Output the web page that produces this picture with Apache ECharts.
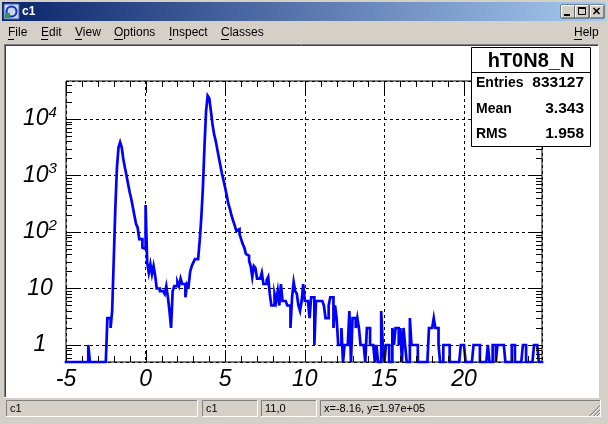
<!DOCTYPE html>
<html>
<head>
<meta charset="utf-8">
<script src="https://cdn.jsdelivr.net/npm/echarts@6/dist/echarts.min.js"></script>
<style>
html,body{margin:0;padding:0;background:#d4d0c8;}
#c{width:608px;height:424px;}
</style>
</head>
<body>
<div id="c"></div>
<script>
// ---- data ----
const X_MIN = -5;
const X_MAX = 24.9;
const BIN_WIDTH = 0.1;
const Y_MIN = 0.5;
const Y_MAX = 47000;
const COUNTS = [
  0,0,0,0,0,0,0,0,0,0,
  0,0,0,0,1,0,0,0,0,0,
  0,0,0,0,0,0,3,3,2,4,
  33,274,1390,3160,3870,3160,1960,1390,1000,707,
  504,384,274,194,138,120,75,75,53,50,
  300,29,19,27,18,25,17,10,10,9,
  9,9,8,11,7,4,2,9,11,11,
  13,11,15,12,12,7,12,11,20,25,
  29,33,33,33,72,181,617,3380,14000,25800,
  23400,14000,8150,5400,4150,2950,2090,1490,1060,810,
  600,440,313,255,194,158,130,105,112,92,
  75,61,53,41,38,31,25,16,25,23,
  15,15,15,19,12,12,14,16,8,5,
  5,8,6,9,5,12,6,6,6,5,
  5,2,7,13,9,8,5,4,6,12,
  6,6,6,3,7,7,1,6,6,6,
  6,6,5,3,3,5,7,7,2,5,
  3,1,1,2,0,1,1,1,4,0,
  3,3,2,3,2,1,1,1,0,2,
  2,1,1,1,0,1,0,0,4,1,
  0,1,1,0,0,2,1,2,2,1,
  2,0,2,1,0,0,3,1,1,1,
  1,0,0,0,0,0,0,0,2,2,
  2,3,2,2,1,0,0,1,1,1,
  1,0,0,0,0,0,0,0,1,1,
  1,0,0,0,0,0,1,1,1,1,
  0,0,0,0,0,1,0,0,1,1,
  0,1,1,1,1,1,0,0,0,0,
  1,1,0,0,0,0,0,1,1,0,
  0,0,0,0,1,1,1,0,0
];
const X_LABEL_TICKS = [-5, 0, 5, 10, 15, 20];
const Y_LABEL_TICKS = [1, 10, 100, 1000, 10000];
const STATS_TITLE = 'hT0N8_N';
const STATS_NAMES = ['Entries', 'Mean', 'RMS'];
const STATS_VALUES = ['833127', '3.343', '1.958'];
const WINDOW_TITLE = 'c1';
const MENU_ITEMS = ['File', 'Edit', 'View', 'Options', 'Inspect', 'Classes'];
const MENU_HELP = 'Help';
const STATUS_TEXTS = ['c1', 'c1', '11,0', 'x=-8.16, y=1.97e+05'];

// ---- build ----
const FONT = 'Liberation Sans';
const chart = echarts.init(document.getElementById('c'));

// histogram outline: each bin contributes its low and high edge at its content
const histData = [];
COUNTS.forEach(function (c, i) {
  const lo = Math.round((X_MIN + i * BIN_WIDTH) * 100) / 100;
  const hi = Math.round((X_MIN + (i + 1) * BIN_WIDTH) * 100) / 100;
  const v = c > 0 ? c : Y_MIN;
  histData.push([lo, v], [hi, v]);
});

const X_MINOR = [];
for (let v = -4; v <= 24; v++) if (v % 5 !== 0) X_MINOR.push(v);
const Y_MINOR = [];
for (let e = -1; e <= 4; e++) for (let m = 2; m <= 9; m++) {
  const v = m * Math.pow(10, e);
  if (v > Y_MIN && v < Y_MAX) Y_MINOR.push(v);
}
const tickData = []
  .concat(X_LABEL_TICKS.map(v => [v, 1, 1]))
  .concat(X_MINOR.map(v => [v, 1, 0]))
  .concat(Y_LABEL_TICKS.map(v => [X_MIN, v, 3]))
  .concat(Y_MINOR.map(v => [X_MIN, v, 2]));

function seg(x1, y1, x2, y2) {
  return {type: 'line', shape: {x1, y1, x2, y2}, style: {stroke: '#000', lineWidth: 1}};
}
function renderTicks(params, api) {
  const kind = api.value(2);
  const ch = [];
  if (kind < 2) {
    const xv = api.value(0);
    const b = api.coord([xv, Y_MIN]);
    const t = api.coord([xv, Y_MAX]);
    const len = kind === 1 ? 12 : 6;
    const x = Math.round(b[0]) + 0.5;
    ch.push(seg(x, b[1], x, b[1] - len));
    ch.push(seg(x, t[1], x, t[1] + len));
  } else {
    const yv = api.value(1);
    const l = api.coord([X_MIN, yv]);
    const r = api.coord([X_MAX, yv]);
    const len = kind === 3 ? 12 : 6;
    const y = Math.round(l[1]) + 0.5;
    ch.push(seg(l[0], y, l[0] + len, y));
    ch.push(seg(r[0], y, r[0] - len, y));
  }
  return {type: 'group', children: ch};
}

function yLabel(v) {
  const e = Math.round(Math.log10(v));
  const p = Math.pow(10, e);
  if (Math.abs(p - v) > 1e-6 * p) return '';
  if (!Y_LABEL_TICKS.some(t => Math.abs(t - p) < 1e-6 * p)) return '';
  if (e === 0) return '{b|1}';
  if (e === 1) return '{b|10}';
  return '{b|10}{s|' + e + '}';
}
function xLabel(v) {
  return X_LABEL_TICKS.some(t => Math.abs(t - v) < 1e-9) ? String(Math.round(v)) : '';
}

// ---- window chrome ----
const G = [];
G.push({type: 'rect', z: -200, shape: {x: 0, y: 0, width: 608, height: 424}, style: {fill: '#d4d0c8'}});
G.push({type: 'rect', z: -199, shape: {x: 2, y: 2, width: 604, height: 19},
  style: {fill: new echarts.graphic.LinearGradient(0, 0, 1, 0, [{offset: 0, color: '#0a246a'}, {offset: 1, color: '#a6caf0'}])}});
// icon
G.push({type: 'rect', z: -198, shape: {x: 4, y: 4, width: 15, height: 15}, style: {fill: '#c8d4e8', stroke: '#4060a0', lineWidth: 1}});
G.push({type: 'circle', z: -197, shape: {cx: 11.5, cy: 11.5, r: 5}, style: {fill: 'none', stroke: '#1030c0', lineWidth: 2}});
G.push({type: 'rect', z: -197, shape: {x: 5, y: 13, width: 5, height: 5}, style: {fill: '#20a040'}});
G.push({type: 'text', z: -197, style: {text: WINDOW_TITLE, x: 22, y: 12, fill: '#fff', font: 'bold 12px ' + FONT, verticalAlign: 'middle'}});
// title buttons
[[561, 5], [575, 5], [590, 5]].forEach(function (p) {
  G.push({type: 'rect', z: -197, shape: {x: p[0], y: p[1], width: 14, height: 13}, style: {fill: '#d4d0c8', stroke: '#404040', lineWidth: 1}});
  G.push(Object.assign(seg(p[0] + 0.5, p[1] + 0.5, p[0] + 13.5, p[1] + 0.5), {z: -196, style: {stroke: '#fff', lineWidth: 1}}));
  G.push(Object.assign(seg(p[0] + 0.5, p[1] + 0.5, p[0] + 0.5, p[1] + 12.5), {z: -196, style: {stroke: '#fff', lineWidth: 1}}));
});
G.push({type: 'rect', z: -195, shape: {x: 564, y: 14, width: 6, height: 2}, style: {fill: '#000'}});
G.push({type: 'rect', z: -195, shape: {x: 578.5, y: 7.5, width: 7, height: 7}, style: {fill: 'none', stroke: '#000', lineWidth: 1}});
G.push({type: 'rect', z: -195, shape: {x: 578, y: 7, width: 8, height: 2}, style: {fill: '#000'}});
G.push(Object.assign(seg(593.5, 8, 599.5, 14), {z: -195, style: {stroke: '#000', lineWidth: 1.6}}));
G.push(Object.assign(seg(599.5, 8, 593.5, 14), {z: -195, style: {stroke: '#000', lineWidth: 1.6}}));
// menu
const MENU_X = [8, 41, 75, 114, 169, 221];
const MENU_UW = [6, 7, 7, 9, 3, 8];
MENU_ITEMS.forEach(function (m, i) {
  G.push({type: 'text', z: -190, style: {text: m, x: MENU_X[i], y: 33, fill: '#000', font: '12px ' + FONT, verticalAlign: 'middle'}});
  G.push(Object.assign(seg(MENU_X[i], 39.5, MENU_X[i] + MENU_UW[i], 39.5), {z: -190}));
});
G.push({type: 'text', z: -190, style: {text: MENU_HELP, x: 574, y: 33, fill: '#000', font: '12px ' + FONT, verticalAlign: 'middle'}});
G.push(Object.assign(seg(574, 39.5, 582, 39.5), {z: -190}));
// canvas area
G.push({type: 'rect', z: -150, shape: {x: 5, y: 45, width: 593, height: 352}, style: {fill: '#fff'}});
G.push(Object.assign(seg(4, 44.5, 599, 44.5), {z: -149, style: {stroke: '#808080', lineWidth: 1}}));
G.push(Object.assign(seg(4.5, 44.5, 4.5, 398), {z: -149, style: {stroke: '#808080', lineWidth: 1}}));
G.push(Object.assign(seg(5, 45.5, 598, 45.5), {z: -149, style: {stroke: '#404040', lineWidth: 1}}));
G.push(Object.assign(seg(5.5, 45.5, 5.5, 397), {z: -149, style: {stroke: '#404040', lineWidth: 1}}));
G.push(Object.assign(seg(4, 397.5, 599, 397.5), {z: -149, style: {stroke: '#ffffff', lineWidth: 1}}));
G.push(Object.assign(seg(598.5, 44.5, 598.5, 398), {z: -149, style: {stroke: '#ffffff', lineWidth: 1}}));
// status bar
const STATUS_BOX = [[6, 400, 192, 17], [202, 400, 56, 17], [261, 400, 56, 17], [320, 400, 281, 17]];
STATUS_BOX.forEach(function (b, i) {
  G.push(Object.assign(seg(b[0] + 0.5, b[1] + 0.5, b[0] + b[2], b[1] + 0.5), {z: -140, style: {stroke: '#808080', lineWidth: 1}}));
  G.push(Object.assign(seg(b[0] + 0.5, b[1] + 0.5, b[0] + 0.5, b[1] + b[3]), {z: -140, style: {stroke: '#808080', lineWidth: 1}}));
  G.push(Object.assign(seg(b[0], b[1] + b[3] - 0.5, b[0] + b[2], b[1] + b[3] - 0.5), {z: -140, style: {stroke: '#ffffff', lineWidth: 1}}));
  G.push(Object.assign(seg(b[0] + b[2] - 0.5, b[1], b[0] + b[2] - 0.5, b[1] + b[3]), {z: -140, style: {stroke: '#ffffff', lineWidth: 1}}));
  G.push({type: 'text', z: -139, style: {text: STATUS_TEXTS[i], x: b[0] + 4, y: b[1] + 9, fill: '#000', font: '11px ' + FONT, verticalAlign: 'middle'}});
});
[[590, 416, 600, 406], [594, 416, 600, 410], [597, 416, 600, 413]].forEach(function (s) {
  G.push(Object.assign(seg(s[0], s[1], s[2], s[3]), {z: -138, style: {stroke: '#808080', lineWidth: 1.2}}));
  G.push(Object.assign(seg(s[0] + 1, s[1], s[2], s[3] + 1), {z: -138, style: {stroke: '#ffffff', lineWidth: 1}}));
});
// stats box
const SB = {x: 471.5, y: 47.5, w: 119, h: 99};
G.push({type: 'rect', z: 100, shape: {x: SB.x, y: SB.y, width: SB.w, height: SB.h}, style: {fill: '#fff', stroke: '#000', lineWidth: 1}});
G.push(Object.assign(seg(SB.x, 72.5, SB.x + SB.w, 72.5), {z: 101}));
G.push({type: 'text', z: 101, style: {text: STATS_TITLE, x: SB.x + SB.w / 2, y: 61, fill: '#000', font: 'bold 20px ' + FONT, align: 'center', verticalAlign: 'middle'}});
const ROW_Y = [83, 109, 134];
STATS_NAMES.forEach(function (n, i) {
  G.push({type: 'text', z: 101, style: {text: n, x: 476, y: ROW_Y[i], fill: '#000', font: 'bold 14px ' + FONT, verticalAlign: 'middle'}});
  G.push({type: 'text', z: 101, style: {text: STATS_VALUES[i], x: 584, y: ROW_Y[i], fill: '#000', font: 'bold 15.5px ' + FONT, align: 'right', verticalAlign: 'middle'}});
});

const option = {
  animation: false,
  backgroundColor: 'transparent',
  graphic: {elements: G},
  grid: {left: 66, top: 81, width: 476, height: 281, show: true, borderColor: '#000', borderWidth: 1, backgroundColor: 'transparent'},
  xAxis: {
    type: 'value', min: X_MIN, max: X_MAX, interval: 5,
    axisLine: {show: false}, axisTick: {show: false},
    splitLine: {show: true, lineStyle: {color: '#000', width: 1, type: [3, 3]}},
    axisLabel: {formatter: xLabel, fontFamily: FONT, fontStyle: 'italic', fontSize: 23, color: '#000', margin: 6, hideOverlap: false, showMinLabel: true, showMaxLabel: true}
  },
  yAxis: {
    type: 'log', logBase: 10, min: Y_MIN, max: Y_MAX,
    axisLine: {show: false}, axisTick: {show: false},
    splitLine: {show: true, lineStyle: {color: '#000', width: 1, type: [3, 3]}},
    axisLabel: {
      formatter: yLabel, margin: 26, align: 'center', hideOverlap: false, showMinLabel: true, showMaxLabel: true,
      rich: {
        b: {fontFamily: FONT, fontStyle: 'italic', fontSize: 23, color: '#000', lineHeight: 28},
        s: {fontFamily: FONT, fontStyle: 'italic', fontSize: 15, color: '#000', lineHeight: 12, verticalAlign: 'top'}
      }
    }
  },
  series: [
    {
      type: 'line', data: histData, symbol: 'none', clip: false,
      lineStyle: {color: '#0000ff', width: 2.7, join: 'miter', cap: 'square'}, z: 3, silent: true
    },
    {
      type: 'custom', renderItem: renderTicks, data: tickData, encode: {x: 0, y: 1}, clip: false, silent: true, z: 4
    }
  ]
};
chart.setOption(option);
</script>
</body>
</html>
